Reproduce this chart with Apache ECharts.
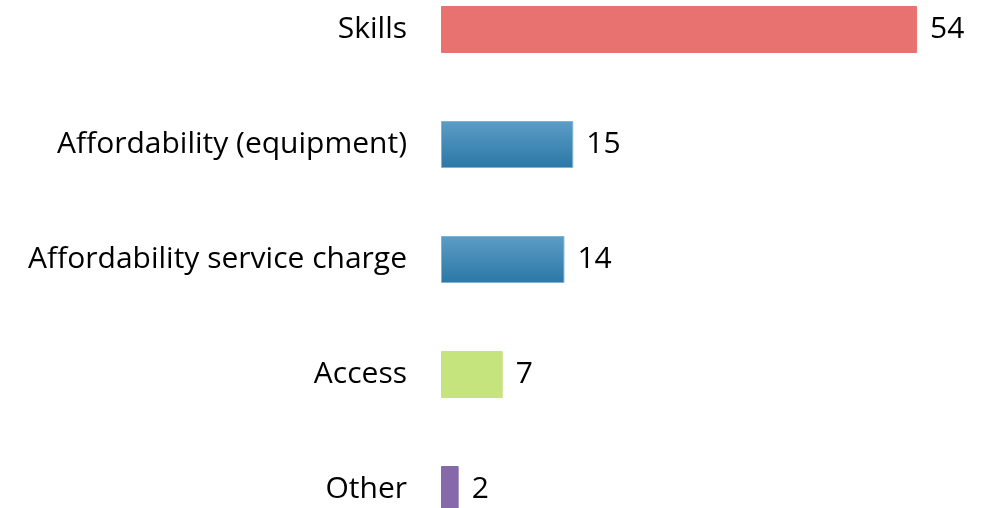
<!DOCTYPE html>
<html>
<head>
<meta charset="utf-8">
<script src="https://cdn.jsdelivr.net/npm/echarts@6/dist/echarts.min.js"></script>
<style>
  html, body { margin: 0; padding: 0; background: #fff; }
  #chart { width: 984px; height: 508px; }
</style>
</head>
<body>
<div id="chart"></div>
<script>
// categories top to bottom
const categories = ['Skills', 'Affordability (equipment)', 'Affordability service charge', 'Access', 'Other']
const values = [54, 15, 14, 7, 2]

const blueGrad = {
  type: 'linear', x: 0, y: 0, x2: 0, y2: 1,
  colorStops: [
    { offset: 0, color: '#5c9dc6' },
    { offset: 1, color: '#2b77a6' },
  ],
}
const barColors = ['#e87270', blueGrad, blueGrad, '#c5e47e', '#8569a8']
const borderColors = ['#e87270', '#7fb3d3', '#7fb3d3', '#c5e47e', '#8569a8']

const chart = echarts.init(document.getElementById('chart'))
chart.setOption({
  animation: false,
  backgroundColor: '#fff',
  grid: { left: 441, top: -28, width: 529, height: 575, outerBoundsMode: 'none', containLabel: false },
  xAxis: {
    type: 'value',
    min: 0,
    max: 60,
    show: false,
  },
  yAxis: {
    type: 'category',
    inverse: true,
    data: categories,
    axisLine: { show: false },
    axisTick: { show: false },
    axisLabel: {
      margin: 34,
      color: '#000',
      fontSize: 30,
      fontFamily: 'Open Sans',
    },
  },
  series: [{
    type: 'bar',
    barWidth: 47,
    data: values.map((v, i) => ({
      value: v,
      itemStyle: { color: barColors[i], borderColor: borderColors[i], borderWidth: 1 },
    })),
    label: {
      show: true,
      position: 'right',
      distance: 13,
      color: '#000',
      fontSize: 30,
      fontFamily: 'Open Sans',
    },
  }],
})
</script>
</body>
</html>
